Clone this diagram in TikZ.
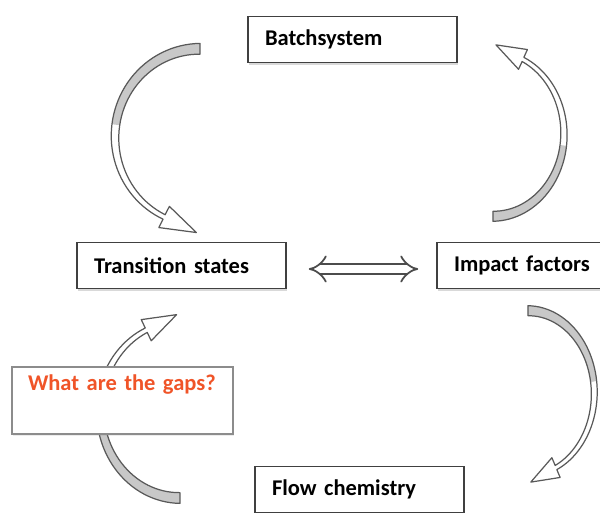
\documentclass[tikz,border=0pt]{standalone}
\usepackage{fontspec}
\setmainfont{Carlito}
\usepackage{tikz}
\usetikzlibrary{
	arrows.meta,
	shadows
}
\definecolor{gapred}{RGB}{240,84,40}
\definecolor{ribbon}{RGB}{200,200,200}

\tikzset{
	box/.style={rectangle, draw=black!75, line width=0.9pt, fill=white,
		minimum height=0.92cm, text width=3.5cm, inner xsep=0.34cm, align=left,
		font=\fontsize{12.8}{15}\selectfont\bfseries,
		drop shadow={shadow xshift=0.6pt, shadow yshift=-1.6pt, opacity=0.3}},
	gapbox/.style={rectangle, draw=black!45, line width=1pt, fill=white,
		text width=3.78cm, inner xsep=0.32cm, inner ysep=0.2cm,
		text height=0.28cm, text depth=0.66cm, align=left,
		font=\fontsize{12.8}{15}\selectfont\bfseries, text=gapred,
		drop shadow={shadow xshift=0.5pt, shadow yshift=-1pt, opacity=0.15}},
	dblarrow/.style={draw=black!70, line width=1pt, double=white,
		double distance=4.4pt, {Implies}-{Implies}},
	curl/.style={draw=black!65, line width=0.7pt, line join=round},
	curlarrow/.pic={
		% grey underside of the ribbon near the tail
		\fill[ribbon]
			plot[domain=90:172,samples=30] ({(85+(11-6*(\x-90)/155)/2)*cos(\x)},{(90+(11-6*(\x-90)/155)/2)*sin(\x)})
			-- plot[domain=90:172,samples=30] ({(85-(11-6*(172-\x)/155)/2)*cos(262-\x)},{(90-(11-6*(172-\x)/155)/2)*sin(262-\x)})
			-- cycle;
		\draw[curl]
			plot[domain=90:245,samples=50] ({(85+(11-6*(\x-90)/155)/2)*cos(\x)},{(90+(11-6*(\x-90)/155)/2)*sin(\x)})
			-- (-41.2,-92.4) -- (-3.6,-97.5) -- (-30.6,-70.8)
			-- plot[domain=90:245,samples=50] ({(85-(11-6*(245-\x)/155)/2)*cos(335-\x)},{(90-(11-6*(245-\x)/155)/2)*sin(335-\x)})
			-- cycle;
	}
}

\begin{document}
\begin{tikzpicture}[x=0.02cm,y=-0.02cm]
	\useasboundingbox (0,0) rectangle (600,513);
	\clip (0,0) rectangle (600,513);

	% ribbon arrows round the cycle
	\pic[xscale=1,yscale=-0.98] at (200,137) {curlarrow};
	\pic[xscale=-0.835,yscale=0.914] at (493,134) {curlarrow};
	\pic[xscale=-0.78,yscale=-0.914] at (528,393) {curlarrow};
	\pic[xscale=0.94,yscale=0.978] at (180,410) {curlarrow};

	\draw
		node [box] (batch) at (352.5,39.5) {Batchsystem}
		node [box] (trans) at (181.5,265.5) {Transition states}
		node [box] (impact) at (541.5,265.5) {Impact factors}
		node [box] (flow) at (359.5,489.5) {Flow chemistry}
		node [gapbox] (gaps) at (122.5,400.5) {What are the gaps?}
	;

	\draw[dblarrow, shorten <=0.44cm, shorten >=0.36cm] ([yshift=-2pt]trans.east) -- ([yshift=-2pt]impact.west);
\end{tikzpicture}
\end{document}
